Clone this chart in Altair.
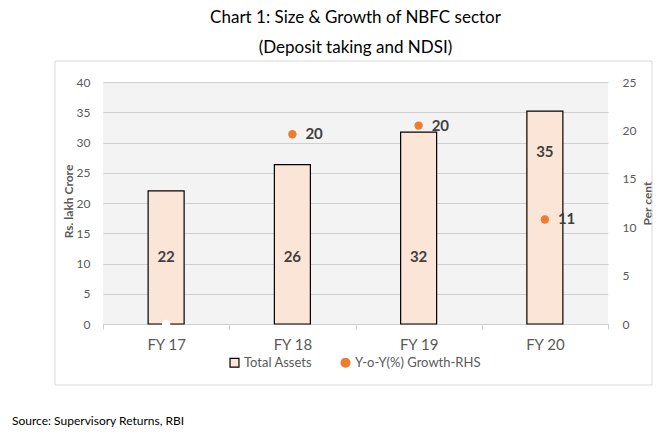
import altair as alt
import pandas as pd

years = ["FY 17", "FY 18", "FY 19", "FY 20"]
total_assets = [22.0, 26.35, 31.7, 35.2]
asset_labels = ["22", "26", "32", "35"]
growth = [0.0, 19.6, 20.5, 10.8]
growth_labels = ["", "20", "20", "11"]

S1 = "Total Assets"
S2 = "Y-o-Y(%) Growth-RHS"

df = pd.DataFrame({
    "year": years,
    "assets": total_assets,
    "alabel": asset_labels,
    "growth": growth,
    "glabel": growth_labels,
})
one = pd.DataFrame({"note": ["Source: Supervisory Returns, RBI"]})

FONT = "Lato"
GREY = "#595959"
DARK = "#404040"

x_enc = alt.X("year:N", sort=years, title=None,
              scale=alt.Scale(paddingInner=0, paddingOuter=0),
              axis=alt.Axis(labelAngle=0, labelFontSize=15, labelColor=GREY, labelFont=FONT,
                            tickBand="extent", tickColor="#d0d0d0", tickSize=5,
                            domainColor="#d0d0d0", labelPadding=8))

yL = alt.Scale(domain=[0, 40], nice=False)
yR = alt.Scale(domain=[0, 25], nice=False)

axL = alt.Axis(values=[0, 5, 10, 15, 20, 25, 30, 35, 40], ticks=False, domain=False,
               labelOverlap=False,
               labelFontSize=12, labelColor=GREY, labelFont=FONT, labelPadding=13,
               grid=True, gridColor="#cfcfcf", gridWidth=1, titleFont=FONT, titleFontSize=12,
               titleColor=GREY, titleFontWeight="bold",
               titleX=-35, titleY=119, titleAngle=270, titleAlign="center", titleBaseline="middle")
axR = alt.Axis(orient="right", values=[0, 5, 10, 15, 20, 25], ticks=False, domain=False,
               labelOverlap=False,
               grid=False, labelFontSize=12, labelColor=GREY, labelFont=FONT,
               labelPadding=14, titleFont=FONT, titleFontSize=12, titleColor=GREY,
               titleFontWeight="bold",
               titleX=39, titleY=121, titleAngle=270, titleAlign="center", titleBaseline="middle")

color_scale = alt.Scale(domain=[S1, S2], range=["#fbe5d6", "#ed7d31"])
stroke_scale = alt.Scale(domain=[S1, S2], range=["#000000", "#ed7d31"])
shape_scale = alt.Scale(domain=[S1, S2], range=["square", "circle"])

base = alt.Chart(df)

bars = base.transform_calculate(series=f"'{S1}'").mark_bar(size=36, strokeWidth=1.2).encode(
    x=x_enc,
    y=alt.Y("assets:Q", scale=yL, title="Rs. lakh Crore", axis=axL),
    color=alt.Color("series:N", scale=color_scale, title=None),
    stroke=alt.Stroke("series:N", scale=stroke_scale, title=None),
)

bar_text = base.transform_calculate(
    labelY="datum.year == 'FY 20' ? 28.4 : 11"
).mark_text(font=FONT, fontSize=15, fontWeight="bold", color=DARK).encode(
    x=alt.X("year:N", sort=years),
    y=alt.Y("labelY:Q", scale=yL, title="Rs. lakh Crore", axis=axL),
    text="alabel:N",
)

frame = alt.Chart(one).mark_rect(fill=None, stroke="#d9d9d9", strokeWidth=1).encode(
    x=alt.value(-48), x2=alt.value(549), y=alt.value(-21), y2=alt.value(303)
)

source = alt.Chart(one).mark_text(font=FONT, fontSize=12, color="#000000", align="left").encode(
    x=alt.value(-91), y=alt.value(339), text="note:N"
)

left = alt.layer(frame, source, bars, bar_text).resolve_scale(y="shared")

pts = base.transform_filter("datum.growth > 0").transform_calculate(series=f"'{S2}'").mark_point(
    filled=True, size=70, opacity=1).encode(
    x=alt.X("year:N", sort=years),
    y=alt.Y("growth:Q", scale=yR, title="Per cent", axis=axR),
    color=alt.Color("series:N", scale=color_scale, title=None),
    shape=alt.Shape("series:N", scale=shape_scale, title=None),
)

white_pt = base.transform_filter("datum.growth == 0").mark_point(
    filled=True, size=70, opacity=1, color="white").encode(
    x=alt.X("year:N", sort=years),
    y=alt.Y("growth:Q", scale=yR, title="Per cent", axis=axR),
)

pt_text = base.transform_filter("datum.growth > 0").mark_text(
    font=FONT, fontSize=15, fontWeight="bold", color=DARK, align="left", dx=13).encode(
    x=alt.X("year:N", sort=years),
    y=alt.Y("growth:Q", scale=yR, title="Per cent", axis=axR),
    text="glabel:N",
)

right = alt.layer(pts, white_pt, pt_text).resolve_scale(y="shared")

chart = alt.layer(left, right).resolve_scale(y="independent").properties(
    width=505, height=242,
    padding={"left": 103, "top": 82, "right": 57, "bottom": 113},
    autosize=alt.AutoSizeParams(type="none"),
    title=alt.TitleParams(
        text=["Chart 1: Size & Growth of NBFC sector", "(Deposit taking and NDSI)"],
        font=FONT, fontSize=17, fontWeight="normal", color="#000000",
        anchor="middle", lineHeight=30, offset=4,
    ),
).configure_view(
    fill="#f3f3f3", stroke=None
).configure_legend(
    orient="none", legendX=125, legendY=274, direction="horizontal",
    labelFont=FONT, labelFontSize=13, labelColor=GREY, symbolSize=80,
    columnPadding=25, symbolStrokeWidth=1.2, labelOffset=3,
)

chart.save("out.html", embed_options={"renderer": "svg", "actions": False})
